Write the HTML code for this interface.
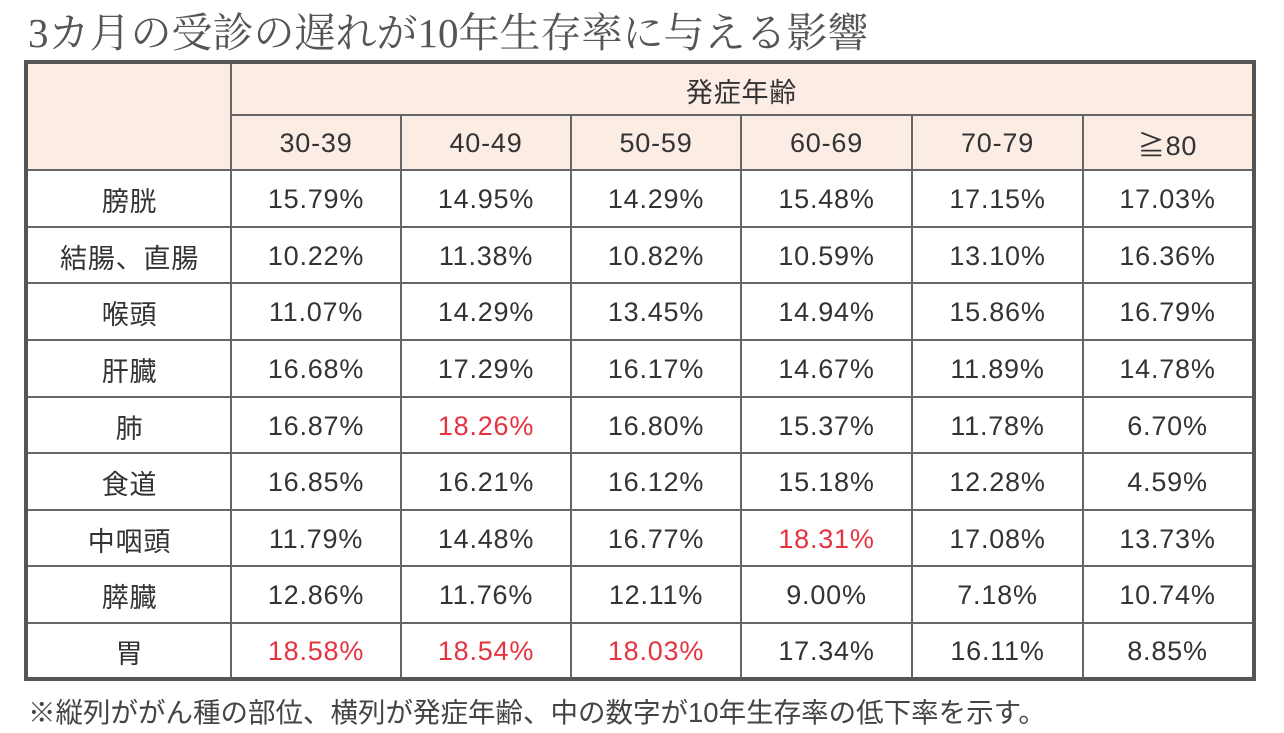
<!DOCTYPE html>
<html><head><meta charset="utf-8"><style>
body{margin:0;width:1284px;height:733px;background:#fff;position:relative;overflow:hidden;font-family:"Liberation Sans","Noto Sans CJK JP",sans-serif;}
#title{position:absolute;left:28px;top:0px;font-family:"Liberation Serif","Noto Serif CJK SC",serif;font-size:41px;color:#555;white-space:nowrap;letter-spacing:0px;}
#note{position:absolute;left:28px;top:690px;font-size:27.5px;color:#444;white-space:nowrap;}
#tbl{position:absolute;left:24px;top:60px;width:1232px;height:621px;box-sizing:border-box;border:4px solid #555;}
.c{position:absolute;display:flex;align-items:center;justify-content:center;font-size:27px;letter-spacing:0.8px;color:#333;box-sizing:border-box;padding-top:2px;}
.h{background:#fbece4;}
.l{position:absolute;background:#666;}
</style></head><body>
<div id="title">3カ月の受診の遅れが10年生存率に与える影響</div>
<div id="tbl"></div>
<div id="note">※縦列ががん種の部位、横列が発症年齢、中の数字が10年生存率の低下率を示す。</div>
<script>
const ages=["30-39","40-49","50-59","60-69","70-79","≧80"];
const sites=["膀胱","結腸、直腸","喉頭","肝臓","肺","食道","中咽頭","膵臓","胃"];
const values=[
[15.79,14.95,14.29,15.48,17.15,17.03],
[10.22,11.38,10.82,10.59,13.10,16.36],
[11.07,14.29,13.45,14.94,15.86,16.79],
[16.68,17.29,16.17,14.67,11.89,14.78],
[16.87,18.26,16.80,15.37,11.78,6.70],
[16.85,16.21,16.12,15.18,12.28,4.59],
[11.79,14.48,16.77,18.31,17.08,13.73],
[12.86,11.76,12.11,9.00,7.18,10.74],
[18.58,18.54,18.03,17.34,16.11,8.85]];
const highlights=[[4,1],[6,3],[8,0],[8,1],[8,2]];
const T=document.getElementById('tbl');
const X0=28,Y0=64;
const colX=[28,231,401,571,741,912,1083,1252];
const rowY=[64,115,170,227,283,340,397,453,510,566,623,677];
function cell(x1,y1,x2,y2,txt,cls,color){
 const d=document.createElement('div');
 d.className='c '+cls;
 d.style.left=(x1-X0)+'px';d.style.top=(y1-Y0)+'px';
 d.style.width=(x2-x1)+'px';d.style.height=(y2-y1)+'px';
 if(color)d.style.color=color;
 d.textContent=txt;T.appendChild(d);return d;}
let e=cell(28,64,231,170,'','h');


e=cell(231,64,1252,115,'発症年齢','h');


ages.forEach((a,i)=>{const d=cell(colX[i+1],115,colX[i+2],170,a,'h');
 
 });
sites.forEach((s,r)=>{
 const d=cell(28,rowY[r+2],231,rowY[r+3],s,'');
 
 
 values[r].forEach((v,c)=>{
  const hl=highlights.some(h=>h[0]==r&&h[1]==c);
  const e2=cell(colX[c+1],rowY[r+2],colX[c+2],rowY[r+3],v.toFixed(2)+'%','',hl?'#e5333f':null);
  
  
 });
});
function line(x,y,w,h){const l=document.createElement('div');l.className='l';
 l.style.left=(x-X0)+'px';l.style.top=(y-Y0)+'px';l.style.width=w+'px';l.style.height=h+'px';
 
 
 T.appendChild(l);}
for(let i=1;i<7;i++){ if(i==1) line(colX[i]-1,64,2,613); else line(colX[i]-1,115,2,562);}
line(231,114,1021,2);
for(let r=2;r<11;r++){line(28,rowY[r]-1,1224,2);}
</script>
</body></html>
